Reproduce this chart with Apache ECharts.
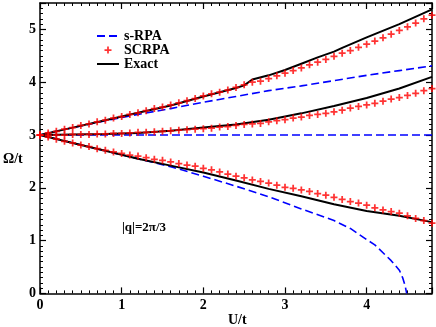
<!DOCTYPE html>
<html>
<head>
<meta charset="utf-8">
<script src="https://cdn.jsdelivr.net/npm/echarts@6/dist/echarts.min.js"></script>
<style>html,body{margin:0;padding:0;background:#fff}#c{width:436px;height:327px}</style>
</head>
<body>
<div id="c"></div>
<script>
// SCRPA grid of U/t values
var uGrid = [0,0.1,0.2,0.3,0.4,0.5,0.6,0.7,0.8,0.9,1.0,1.1,1.2,1.3,1.4,1.5,1.6,1.7,1.8,1.9,2.0,2.1,2.2,2.3,2.4,2.5,2.6,2.7,2.8,2.9,3.0,3.1,3.2,3.3,3.4,3.5,3.6,3.7,3.8,3.9,4.0,4.1,4.2,4.3,4.4,4.5,4.6,4.7,4.8];
var scrpaUpper = [3.00,3.04,3.07,3.11,3.14,3.18,3.21,3.25,3.28,3.32,3.35,3.39,3.42,3.46,3.50,3.53,3.57,
  3.61,3.65,3.69,3.74,3.78,3.81,3.85,3.90,3.95,4.00,4.02,4.07,4.12,4.17,4.22,4.27,
  4.33,4.38,4.43,4.49,4.55,4.60,4.66,4.72,4.78,4.84,4.91,4.98,5.05,5.12,5.20,5.27];
var scrpaMiddle = [3.00,3.00,3.00,3.00,3.01,3.01,3.01,3.02,3.02,3.03,3.03,3.04,3.05,3.05,3.06,3.07,3.08,
  3.09,3.10,3.11,3.12,3.13,3.15,3.16,3.18,3.20,3.21,3.22,3.25,3.27,3.29,3.32,3.34,
  3.37,3.39,3.41,3.44,3.47,3.51,3.54,3.57,3.60,3.64,3.68,3.71,3.75,3.79,3.84,3.88];
var scrpaLower = [3.00,2.96,2.92,2.88,2.85,2.81,2.78,2.74,2.71,2.68,2.65,2.62,2.60,2.57,2.54,2.52,2.49,
  2.46,2.43,2.41,2.37,2.34,2.30,2.26,2.22,2.19,2.15,2.12,2.09,2.05,2.01,1.99,1.96,
  1.93,1.89,1.86,1.82,1.78,1.74,1.71,1.67,1.62,1.58,1.55,1.52,1.47,1.42,1.38,1.33];

// Exact
var uExactUpper = [0,0.4,0.8,1.2,1.6,2.0,2.4,2.5,2.6,2.8,3.0,3.2,3.4,3.6,3.7,4.0,4.4,4.8];
var exactUpper  = [3.00,3.14,3.28,3.42,3.56,3.73,3.89,3.94,4.05,4.13,4.23,4.35,4.47,4.58,4.65,4.85,5.10,5.38];
var uExact = [0,0.4,0.8,1.2,1.6,2.0,2.4,2.8,3.2,3.6,4.0,4.4,4.8];
var exactMiddle = [3.00,3.01,3.02,3.04,3.08,3.14,3.20,3.29,3.41,3.55,3.70,3.88,4.10];
var exactLower  = [3.00,2.85,2.70,2.55,2.42,2.29,2.14,1.98,1.84,1.69,1.56,1.47,1.35];

// s-RPA
var uRpa = [0,0.4,0.8,1.2,1.6,2.0,2.4,2.8,3.2,3.6,4.0,4.4,4.8];
var rpaUpper = [3.00,3.14,3.27,3.39,3.50,3.62,3.73,3.84,3.93,4.03,4.13,4.22,4.31];
var uRpaMiddle = [0,4.8];
var rpaMiddle = [3.00,3.00];
var uRpaLower = [0,0.4,0.8,1.2,1.6,2.0,2.4,2.8,3.2,3.6,3.8,4.0,4.1,4.2,4.3,4.4,4.44,4.47,4.49];
var rpaLower  = [3.00,2.85,2.70,2.55,2.40,2.22,2.03,1.83,1.60,1.38,1.23,1.02,0.92,0.77,0.62,0.44,0.30,0.15,0.00];

var xTicks = [0,1,2,3,4];
var yTicks = [0,1,2,3,4,5];

function pairs(xs, ys){ return xs.map(function(x,i){ return [x, ys[i]]; }); }

var FONT = '"Liberation Serif", "DejaVu Serif", serif';
var plusPath = 'path://M3,0H5V3H8V5H5V8H3V5H0V3H3Z';

function axisCommon(extra){
  var a = {
    type:'value',
    axisLine:{show:true, onZero:false, lineStyle:{color:'#000', width:1.5}},
    axisTick:{show:true, inside:true, length:6, lineStyle:{color:'#000', width:1.2}},
    minorTick:{show:true, splitNumber:10, length:3, lineStyle:{color:'#000', width:1}},
    splitLine:{show:false},
    minorSplitLine:{show:false}
  };
  for (var k in extra) a[k] = extra[k];
  return a;
}

var blueStyle = {color:'#0000ff', width:1.6, type:[8,4]};
var blackStyle = {color:'#000', width:2};
var noMark = {color:'rgba(0,0,0,0)', borderColor:'rgba(0,0,0,0)', borderWidth:0};

var series = [];
function rpa(xs, ys){
  series.push({name:'s-RPA', type:'line', data:pairs(xs,ys), symbol:'circle', symbolSize:0, showSymbol:false, lineStyle:blueStyle, itemStyle:noMark, z:2});
}
function exact(xs, ys){
  series.push({name:'Exact', type:'line', data:pairs(xs,ys), symbol:'circle', symbolSize:0, showSymbol:false, lineStyle:blackStyle, itemStyle:noMark, z:3});
}
function scrpa(xs, ys){
  series.push({name:'SCRPA', type:'scatter', data:pairs(xs,ys), symbol:plusPath, symbolSize:7, itemStyle:{color:'#ff0000'}, z:4});
}
rpa(uRpa, rpaUpper); rpa(uRpaMiddle, rpaMiddle); rpa(uRpaLower, rpaLower);
exact(uExactUpper, exactUpper); exact(uExact, exactMiddle); exact(uExact, exactLower);
scrpa(uGrid, scrpaUpper); scrpa(uGrid, scrpaMiddle); scrpa(uGrid, scrpaLower);

var chart = echarts.init(document.getElementById('c'), null, {renderer:'canvas'});
chart.setOption({
  animation:false,
  backgroundColor:'#fff',
  grid:{left:40, right:4, top:3, bottom:33.6, containLabel:false},
  legend:{
    show:true, orient:'vertical', left:91, top:24,
    itemWidth:22, itemHeight:7, itemGap:0,
    textStyle:{color:'#000', fontFamily:FONT, fontWeight:'bold', fontSize:14, padding:[0,0,0,0]},
    data:['s-RPA','SCRPA','Exact']
  },
  xAxis:[
    axisCommon({min:0, max:4.8, interval:1, position:'bottom',
      axisLabel:{show:true, margin:5, showMaxLabel:false, formatter:function(v){return xTicks.indexOf(v)>=0? String(v):'';}, color:'#000', fontFamily:FONT, fontWeight:'bold', fontSize:14}}),
    axisCommon({min:0, max:4.8, interval:1, position:'top', axisLabel:{show:false}})
  ],
  yAxis:[
    axisCommon({min:0, max:5.5, interval:1, position:'left',
      axisLabel:{show:true, margin:4, showMaxLabel:false, formatter:function(v){return yTicks.indexOf(v)>=0? String(v):'';}, color:'#000', fontFamily:FONT, fontWeight:'bold', fontSize:14}}),
    axisCommon({min:0, max:5.5, interval:1, position:'right', axisLabel:{show:false}})
  ],
  graphic:[
    {type:'text', left:3, top:152, style:{text:'Ω/t', fill:'#000', font:'bold 14px ' + FONT}},
    {type:'text', left:228, top:313, style:{text:'U/t', fill:'#000', font:'bold 14px ' + FONT}},
    {type:'text', left:122, top:221, style:{text:'|q|=2π/3', fill:'#000', font:'bold 13px ' + FONT}}
  ],
  series:series
});
</script>
</body>
</html>
